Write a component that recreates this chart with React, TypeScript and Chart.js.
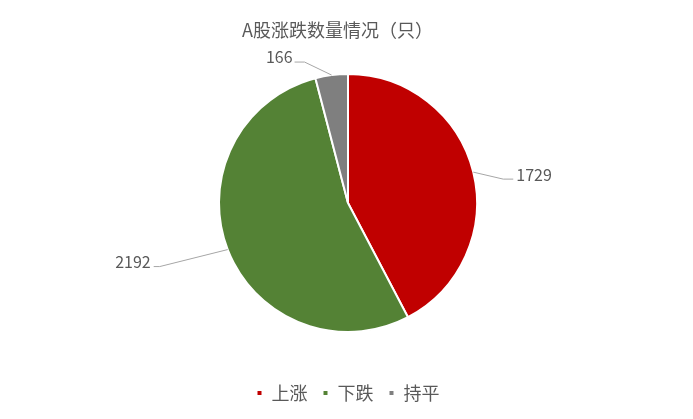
import { useEffect, useRef } from 'react';
import { Chart, registerables } from 'chart.js';
import type { Plugin } from 'chart.js';

Chart.register(...registerables);

const categories = ['上涨', '下跌', '持平'];
const counts = [1729, 2192, 166];
const colors = ['#C00000', '#548235', '#7F7F7F'];
const chartTitle = 'A股涨跌数量情况（只）';

const FONT = '"Noto Sans CJK SC", "Noto Sans", sans-serif';
const TEXT_COLOR = '#595959';

// leader line layout per slice, relative to the slice's outer mid point
const leaders = [
  { elbow: [30, 7], end: [40, 7], text: [43, 2.5], align: 'left' },
  { elbow: [-68, 17], end: [-74, 17], text: [-77, 12.5], align: 'right' },
  { elbow: [-27, -13], end: [-37, -13], text: [-39, -18.5], align: 'right' },
];

const titlePlugin: Plugin<'pie'> = {
  id: 'excelTitle',
  afterDraw(chart) {
    const { ctx } = chart;
    ctx.save();
    ctx.font = `18px ${FONT}`;
    ctx.fillStyle = TEXT_COLOR;
    ctx.textAlign = 'center';
    ctx.textBaseline = 'middle';
    ctx.fillText(chartTitle, 337.5, 30);
    ctx.restore();
  },
};

const labelPlugin: Plugin<'pie'> = {
  id: 'leaderLabels',
  afterDatasetsDraw(chart) {
    const { ctx } = chart;
    const meta = chart.getDatasetMeta(0);
    ctx.save();
    meta.data.forEach((el, i) => {
      const arc = el as any;
      const mid = (arc.startAngle + arc.endAngle) / 2;
      const r = arc.outerRadius;
      const ex = arc.x + Math.cos(mid) * r;
      const ey = arc.y + Math.sin(mid) * r;
      const l = leaders[i];
      ctx.strokeStyle = '#A6A6A6';
      ctx.lineWidth = 1;
      ctx.beginPath();
      ctx.moveTo(ex, ey);
      ctx.lineTo(ex + l.elbow[0], ey + l.elbow[1]);
      ctx.lineTo(ex + l.end[0], ey + l.end[1]);
      ctx.stroke();
      ctx.font = `16px ${FONT}`;
      ctx.fillStyle = TEXT_COLOR;
      ctx.textAlign = l.align as CanvasTextAlign;
      ctx.textBaseline = 'middle';
      ctx.fillText(String(counts[i]), ex + l.text[0], ey + l.text[1]);
    });
    ctx.restore();
  },
};

export default function App() {
  const canvasRef = useRef<HTMLCanvasElement>(null);
  const chartRef = useRef<Chart | null>(null);

  useEffect(() => {
    document.body.style.margin = '0';
    if (!canvasRef.current) return;
    if (chartRef.current) chartRef.current.destroy();

    chartRef.current = new Chart(canvasRef.current, {
      type: 'pie',
      data: {
        labels: categories,
        datasets: [
          {
            data: counts,
            backgroundColor: colors,
            borderColor: '#FFFFFF',
            borderWidth: 2,
            radius: 129,
          },
        ],
      },
      options: {
        responsive: true,
        maintainAspectRatio: false,
        animation: false,
        layout: { padding: { top: 37, bottom: 7, left: 3, right: 0 } },
        plugins: {
          title: { display: false },
          tooltip: { enabled: false },
          legend: {
            position: 'bottom',
            labels: {
              usePointStyle: true,
              pointStyle: 'rect',
              boxWidth: 6,
              boxHeight: 6,
              padding: 15,
              color: TEXT_COLOR,
              font: { family: FONT, size: 18 },
            },
          },
        },
      },
      plugins: [titlePlugin, labelPlugin],
    });

    return () => {
      if (chartRef.current) {
        chartRef.current.destroy();
        chartRef.current = null;
      }
    };
  }, []);

  return (
    <div style={{ width: '693px', height: '419px', background: '#FFFFFF' }}>
      <canvas ref={canvasRef}></canvas>
    </div>
  );
}
